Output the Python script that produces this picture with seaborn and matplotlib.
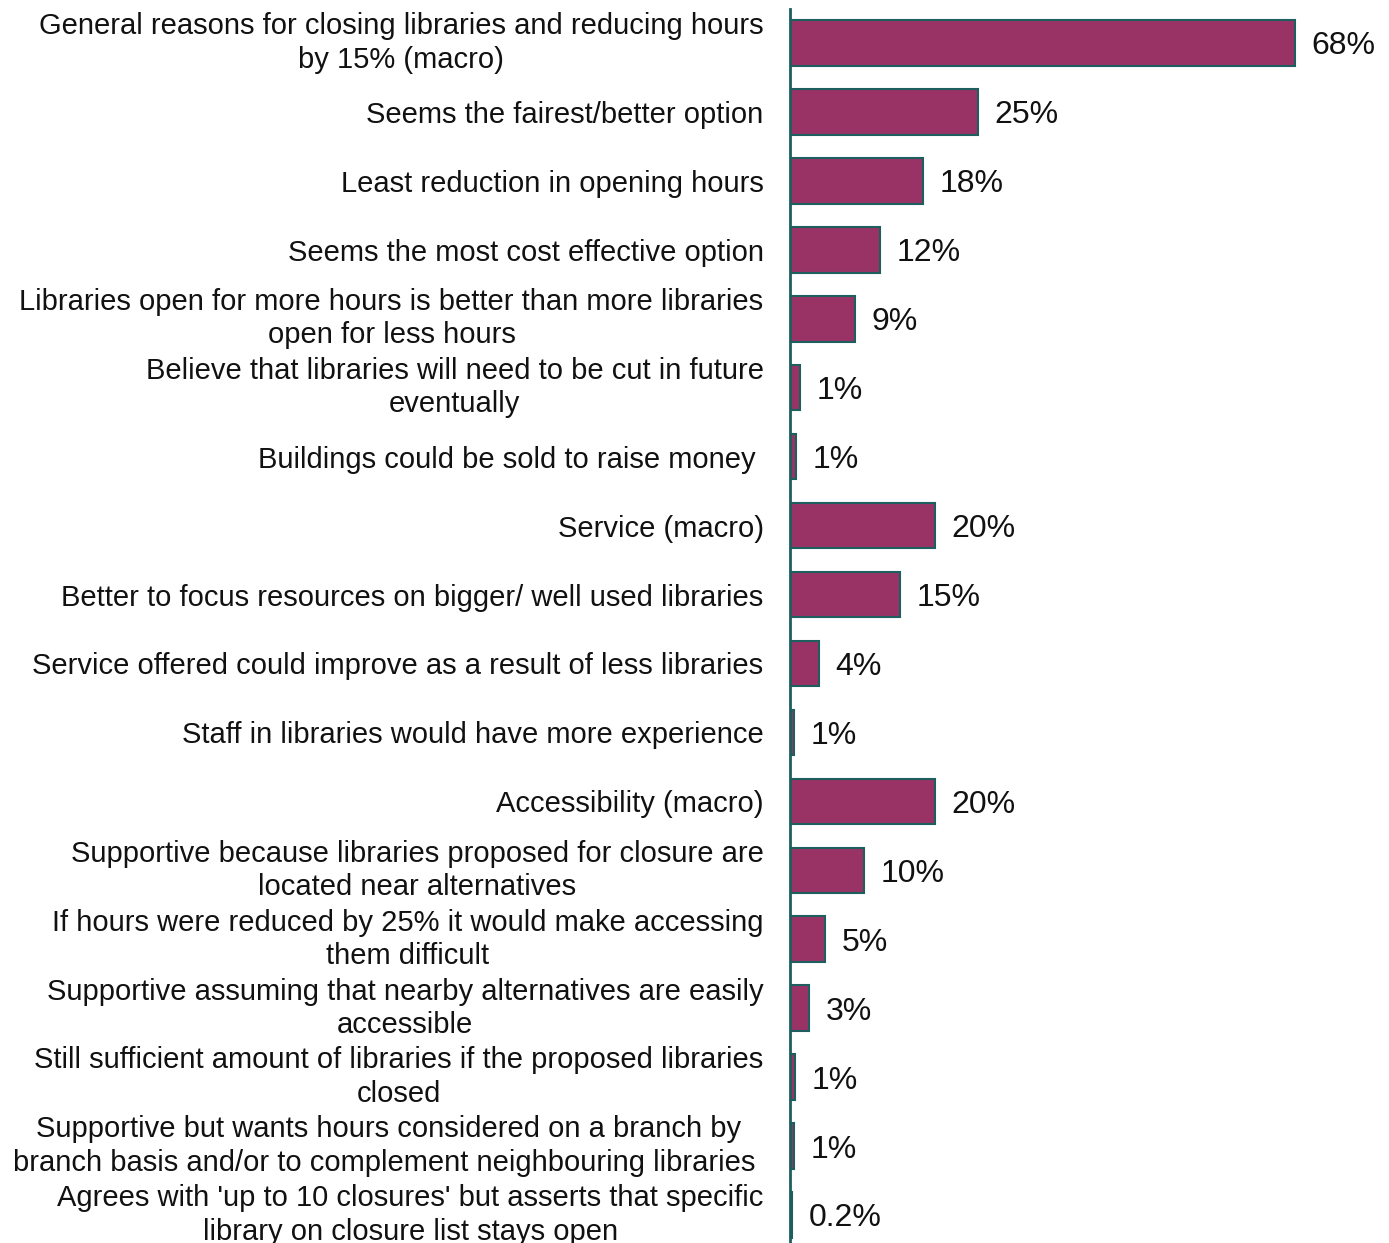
import matplotlib
matplotlib.use("Agg")
import matplotlib.pyplot as plt
import seaborn as sns

reasons = [
    "General reasons for closing libraries and reducing hours\nby 15% (macro)",
    "Seems the fairest/better option",
    "Least reduction in opening hours",
    "Seems the most cost effective option",
    "Libraries open for more hours is better than more libraries\nopen for less hours",
    "Believe that libraries will need to be cut in future\neventually",
    "Buildings could be sold to raise money ",
    "Service (macro)",
    "Better to focus resources on bigger/ well used libraries",
    "Service offered could improve as a result of less libraries",
    "Staff in libraries would have more experience",
    "Accessibility (macro)",
    "Supportive because libraries proposed for closure are\nlocated near alternatives",
    "If hours were reduced by 25% it would make accessing\nthem difficult",
    "Supportive assuming that nearby alternatives are easily\naccessible",
    "Still sufficient amount of libraries if the proposed libraries\nclosed",
    "Supportive but wants hours considered on a branch by\nbranch basis and/or to complement neighbouring libraries ",
    "Agrees with 'up to 10 closures' but asserts that specific\nlibrary on closure list stays open",
]
percent = [68.0, 25.3, 17.9, 12.1, 8.7, 1.3, 0.8, 19.5, 14.8, 3.9, 0.5,
           19.5, 10.0, 4.7, 2.6, 0.7, 0.6, 0.3]
value_text = ["68%", "25%", "18%", "12%", "9%", "1%", "1%", "20%", "15%", "4%", "1%",
              "20%", "10%", "5%", "3%", "1%", "1%", "0.2%"]

bar_color = "#993366"
edge_color = "#1d5e5e"

sns.set_style("white")
plt.rcParams["font.family"] = ["Liberation Sans", "DejaVu Sans"]

fig = plt.figure(figsize=(13.89, 12.43), dpi=100)
n = len(reasons)
step = (1215 - 43) / (n - 1) / 1243
top = 1 - (43 / 1243 - step / 2)
height = step * n
ax = fig.add_axes([790 / 1389, top - height, 1 - 790 / 1389, height])

sns.barplot(x=percent, y=reasons, orient="h", color=bar_color, edgecolor=edge_color,
            linewidth=1.5, width=0.66, ax=ax, saturation=1)

for c in ax.containers:
    texts = ax.bar_label(c, labels=value_text, padding=12, fontsize=23, color="#111111")
    for t in texts:
        t.set_va("center_baseline")

ax.set_xlim(0, 68 * (1389 - 790) / 505)
ax.set_xlabel("")
ax.set_ylabel("")
ax.set_xticks([])
ax.tick_params(axis="y", length=0, pad=19, labelsize=21)
for t in ax.get_yticklabels():
    t.set_multialignment("center")
    t.set_linespacing(1.24)
    if "\n" in t.get_text():
        t.set_va("center")
    t.set_color("#111111")
for s in ["top", "right", "bottom"]:
    ax.spines[s].set_visible(False)
ax.spines["left"].set_color(edge_color)
ax.spines["left"].set_linewidth(2)

fig.savefig("out.png", dpi=100)
